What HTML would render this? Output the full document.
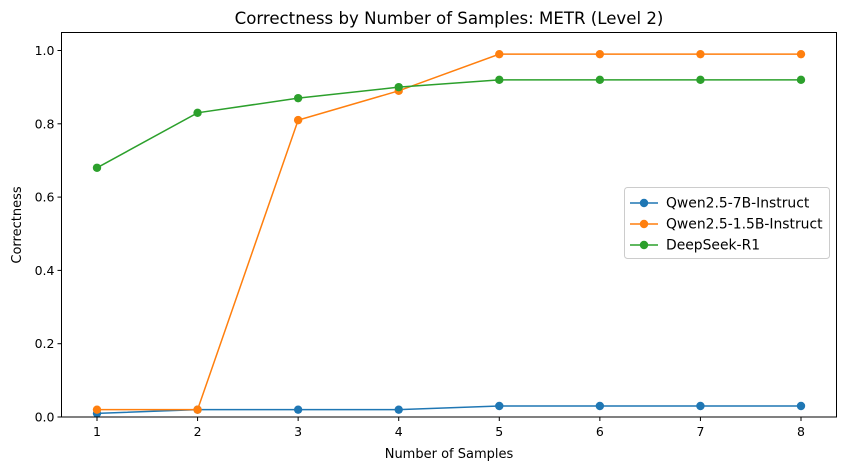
<!DOCTYPE html>
<html><head><meta charset="utf-8"><style>
body{margin:0;background:#fff}
svg{display:block;font-family:"DejaVu Sans","Liberation Sans",sans-serif}
</style></head><body>
<svg id="c" width="846" height="470" xmlns="http://www.w3.org/2000/svg">
<text x="449" y="24" text-anchor="middle" font-size="16.6" fill="#000">Correctness by Number of Samples: METR (Level 2)</text>
<text x="449" y="458" text-anchor="middle" font-size="13">Number of Samples</text>
<text transform="translate(21,225) rotate(-90)" text-anchor="middle" font-size="13">Correctness</text>
<g id="plot"></g>
</svg>
<script>
const xVals=[1,2,3,4,5,6,7,8];
const xTicks=[1,2,3,4,5,6,7,8];
const yTicks=[0.0,0.2,0.4,0.6,0.8,1.0];
const seriesNames=["Qwen2.5-7B-Instruct","Qwen2.5-1.5B-Instruct","DeepSeek-R1"];
const qwen7b=[0.01,0.02,0.02,0.02,0.03,0.03,0.03,0.03];
const qwen15b=[0.02,0.02,0.81,0.89,0.99,0.99,0.99,0.99];
const deepseek=[0.68,0.83,0.87,0.90,0.92,0.92,0.92,0.92];
const colors=["#1f77b4","#ff7f0e","#2ca02c"];
const L=61.5,R=836.5,T=32.5,B=417;
const xs=v=>97+(v-1)*(801-97)/7;
const ys=v=>417-v*(417-50.5);
const NS="http://www.w3.org/2000/svg";
const g=document.getElementById('plot');
function mk(t,a){const e=document.createElementNS(NS,t);for(const k in a)e.setAttribute(k,a[k]);g.appendChild(e);return e;}
xTicks.forEach(v=>{
 const t=mk('line',{x1:xs(v),x2:xs(v),y1:B,y2:B+4,stroke:'#000','stroke-width':1});
 
 
 const l=mk('text',{x:xs(v),y:B+19,'text-anchor':'middle','font-size':12.5});l.textContent=v;
 
 
});
yTicks.forEach(v=>{
 const t=mk('line',{x1:L-4,x2:L,y1:ys(v),y2:ys(v),stroke:'#000','stroke-width':1});
 
 
 const l=mk('text',{x:L-7,y:ys(v)+4.5,'text-anchor':'end','font-size':12.5});l.textContent=v.toFixed(1);
 
 
});
[qwen7b,qwen15b,deepseek].forEach((s,i)=>{
 const p=mk('polyline',{points:s.map((v,j)=>xs(xVals[j])+','+ys(v)).join(' '),fill:'none',stroke:colors[i],'stroke-width':1.5});
 
 
 s.forEach((v,j)=>{
  const c=mk('circle',{cx:xs(xVals[j]),cy:ys(v),r:4.2,fill:colors[i]});
  
  
 });
});
const fr=mk('rect',{x:L,y:T,width:R-L,height:B-T,fill:'none',stroke:'#000','stroke-width':1});


const lg=mk('rect',{x:624.5,y:187.5,width:205,height:71,rx:3,fill:'#fff','fill-opacity':0.8,stroke:'#ccc','stroke-width':1});


seriesNames.forEach((n,i)=>{
 const y=203+i*21;
 const ln=mk('line',{x1:630,x2:658,y1:y,y2:y,stroke:colors[i],'stroke-width':1.5});
 
 
 const c=mk('circle',{cx:644,cy:y,r:4.2,fill:colors[i]});
 
 
 const t=mk('text',{x:666,y:y+4.5,'font-size':13.9});t.textContent=n;
 
 
});
</script>
</body></html>
